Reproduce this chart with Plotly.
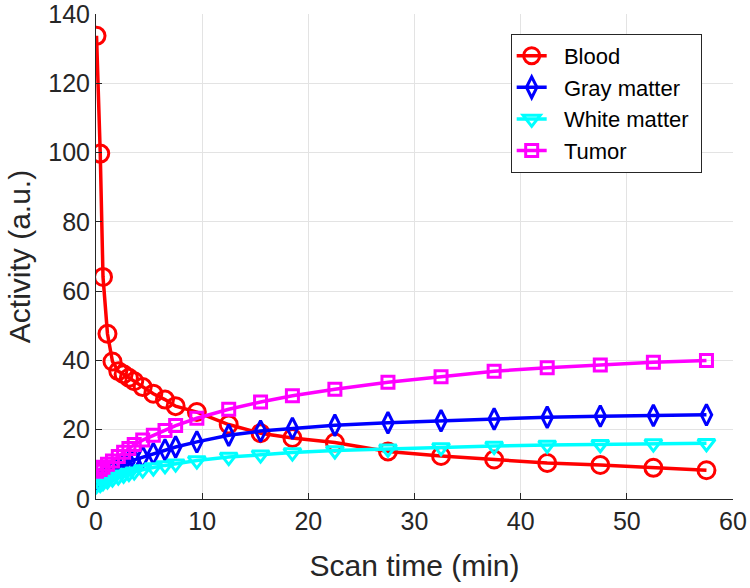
import plotly.graph_objects as go

time_min = [0.05, 0.4, 0.66, 1.08, 1.55, 2.1, 2.6, 3.1, 3.6, 4.4, 5.4, 6.5, 7.5,
            9.5, 12.5, 15.5, 18.5, 22.5, 27.5, 32.5, 37.5, 42.5, 47.5, 52.5, 57.5]

blood = [133.7, 99.7, 64.1, 47.7, 39.7, 36.9, 36.0, 35.0, 34.0, 32.3, 30.4, 28.7, 26.8,
         25.1, 21.5, 19.0, 17.6, 16.3, 13.7, 12.4, 11.4, 10.4, 9.8, 9.0, 8.3]
gray_matter = [5.0, 5.8, 6.5, 7.4, 8.3, 9.2, 10.0, 10.7, 11.3, 12.1, 13.1, 14.2, 15.0,
               16.5, 18.4, 19.6, 20.4, 21.3, 22.0, 22.6, 23.1, 23.6, 23.9, 24.1, 24.3]
white_matter = [4.0, 4.3, 4.8, 5.3, 5.9, 6.5, 7.0, 7.5, 7.9, 8.5, 9.1, 9.7, 10.2,
                11.1, 12.1, 12.8, 13.4, 14.0, 14.5, 14.9, 15.3, 15.6, 15.8, 16.0, 16.1]
tumor = [8.0, 8.5, 9.2, 10.0, 11.0, 12.3, 13.5, 14.6, 15.7, 17.0, 18.4, 19.8, 21.2,
         23.3, 25.9, 28.0, 29.8, 31.7, 33.7, 35.3, 36.9, 37.9, 38.7, 39.5, 40.0]

x_ticks = [0, 10, 20, 30, 40, 50, 60]
y_ticks = [0, 20, 40, 60, 80, 100, 120, 140]

series = [
    ("Blood", blood, "#ff0000", "circle-open", 17),
    ("Gray matter", gray_matter, "#0000ff", "diamond-tall-open", 15),
    ("White matter", white_matter, "#00ffff", "triangle-down-open", 15),
    ("Tumor", tumor, "#ff00ff", "square-open", 12),
]

FONT = "Liberation Sans, Arial, sans-serif"

fig = go.Figure()
for name, vals, color, sym, size in series:
    fig.add_trace(go.Scatter(
        x=time_min, y=vals, name="\u00a0\u00a0" + name + "\u00a0", mode="lines+markers",
        line=dict(color=color, width=3.5),
        marker=dict(symbol=sym, size=size, color=color, line=dict(color=color, width=3)),
    ))

axis_common = dict(
    showline=True, linecolor="#262626", linewidth=1,
    ticks="inside", ticklen=6, tickcolor="#262626", tickwidth=1,
    showgrid=True, gridcolor="#e3e3e3", gridwidth=1,
    zeroline=False, mirror=False, automargin=False,
    ticklabeloverflow="allow",
    tickfont=dict(family=FONT, size=25, color="#262626"),
)

fig.update_layout(
    width=750, height=588,
    margin=dict(l=96, r=17, t=14, b=89),
    paper_bgcolor="white", plot_bgcolor="white",
    font=dict(family=FONT, color="#262626"),
    xaxis=dict(range=[0, 60], tickvals=x_ticks, ticktext=[str(v) for v in x_ticks],
               title=dict(text="Scan time (min)", font=dict(family=FONT, size=30, color="#262626"), standoff=20),
               **axis_common),
    yaxis=dict(range=[0, 140], tickvals=y_ticks, ticktext=[str(v) for v in y_ticks],
               title=dict(text="Activity (a.u.)", font=dict(family=FONT, size=30, color="#262626"), standoff=8),
               **axis_common),
    legend=dict(
        x=0.651, y=0.959, xanchor="left", yanchor="top",
        bgcolor="white", bordercolor="#262626", borderwidth=1,
        font=dict(family=FONT, size=22, color="black"),
        tracegroupgap=0,
    ),
    showlegend=True,
)

fig.write_html(
    "out.html",
    config={"displayModeBar": False},
    post_script="document.body.style.margin='0';document.body.style.overflow='hidden';",
)
